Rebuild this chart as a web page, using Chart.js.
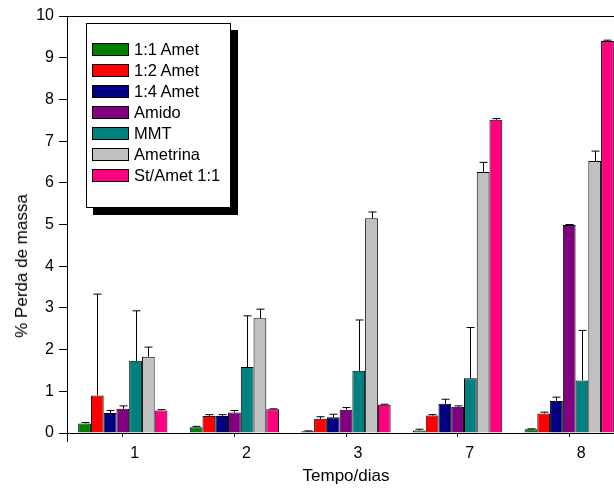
<!DOCTYPE html>
<html>
<head>
<meta charset="utf-8">
<script src="https://cdn.jsdelivr.net/npm/chart.js@4/dist/chart.umd.min.js"></script>
<style>
    body { margin: 0; overflow: hidden; background: #fff; font-family: Arial, "Liberation Sans", sans-serif; }
    #wrap { position: absolute; left: 0; top: 0; width: 640px; height: 490px; }
    #ytitle {
        position: absolute; left: 22px; top: 266px; white-space: nowrap;
        font-size: 17px; color: #000;
        transform: translate(-50%, -50%) rotate(-90deg);
    }
    #legend {
        position: absolute; left: 86px; top: 23px; width: 143px; height: 168px;
        border: 1px solid #000; background: #fff; box-shadow: 7px 7px 0 #000;
        padding-top: 15px; box-sizing: content-box;
    }
    #legend .row { height: 21px; display: flex; align-items: center; font-size: 16.5px; color: #000; }
    #legend .sw { width: 35px; height: 11px; border: 1px solid #000; margin-left: 5px; margin-right: 5px; }
</style>
</head>
<body>
<div id="wrap">
    <canvas id="grafico" width="640" height="490"></canvas>
    <div id="ytitle">% Perda de massa</div>
    <div id="legend"></div>
</div>
<script>
    // tempos (dias)
    var categorias = ['1', '2', '3', '7', '8'];

    var amet11 = [0.23, 0.14, 0.04, 0.06, 0.09];
    var amet12 = [0.90, 0.41, 0.34, 0.42, 0.47];
    var amet14 = [0.48, 0.41, 0.38, 0.70, 0.77];
    var amido = [0.58, 0.49, 0.56, 0.63, 4.99];
    var mmt = [1.73, 1.58, 1.49, 1.31, 1.26];
    var ametrina = [1.83, 2.75, 5.15, 6.26, 6.52];
    var stAmet = [0.54, 0.57, 0.68, 7.51, 9.40];

    // desvios (so a parte de cima e desenhada)
    var errAmet11 = [0.02, 0.02, 0.01, 0.03, 0.01];
    var errAmet12 = [2.43, 0.03, 0.05, 0.02, 0.03];
    var errAmet14 = [0.06, 0.03, 0.07, 0.11, 0.09];
    var errAmido = [0.07, 0.05, 0.05, 0.02, 0.01];
    var errMmt = [1.20, 1.23, 1.22, 1.22, 1.20];
    var errAmetrina = [0.23, 0.22, 0.15, 0.23, 0.24];
    var errStAmet = [0.02, 0.01, 0.01, 0.03, 0.02];

    var yTicks = [0, 1, 2, 3, 4, 5, 6, 7, 8, 9, 10];

    function serie(label, data, erros, cor) {
        return {
            label: label,
            data: data,
            erros: erros,
            backgroundColor: cor,
            borderColor: '#000',
            borderWidth: 1,
            categoryPercentage: 0.8,
            barPercentage: 1.0
        };
    }

    var datasets = [
        serie('1:1 Amet', amet11, errAmet11, '#008000'),
        serie('1:2 Amet', amet12, errAmet12, '#ff0000'),
        serie('1:4 Amet', amet14, errAmet14, '#000080'),
        serie('Amido', amido, errAmido, '#800080'),
        serie('MMT', mmt, errMmt, '#008080'),
        serie('Ametrina', ametrina, errAmetrina, '#c0c0c0'),
        serie('St/Amet 1:1', stAmet, errStAmet, '#ff0080')
    ];

    //- barras de erro + moldura do grafico -
    var errorBars = {
        id: 'errorBars',
        afterDatasetsDraw: function (chart) {
            var ctx = chart.ctx;
            var y = chart.scales.y;
            ctx.save();
            ctx.strokeStyle = '#000';
            ctx.lineWidth = 1;
            chart.data.datasets.forEach(function (ds, i) {
                var meta = chart.getDatasetMeta(i);
                meta.data.forEach(function (bar, j) {
                    var topo = y.getPixelForValue(ds.data[j] + ds.erros[j]);
                    var x = Math.round(bar.x) + 0.5;
                    ctx.beginPath();
                    ctx.moveTo(x, bar.y);
                    ctx.lineTo(x, topo);
                    ctx.moveTo(x - 4, topo);
                    ctx.lineTo(x + 4, topo);
                    ctx.stroke();
                });
            });
            ctx.restore();
        },
        afterDraw: function (chart) {
            var ctx = chart.ctx;
            var a = chart.chartArea;
            ctx.save();
            ctx.strokeStyle = '#000';
            ctx.lineWidth = 1;
            ctx.beginPath();
            ctx.moveTo(a.left, Math.round(a.top) + 0.5);
            ctx.lineTo(a.right, Math.round(a.top) + 0.5);
            // eixo y continua um pouco abaixo do zero
            ctx.moveTo(Math.round(a.left) + 0.5, a.bottom);
            ctx.lineTo(Math.round(a.left) + 0.5, a.bottom + 9);
            ctx.stroke();
            ctx.restore();
        }
    };

    var ctx = document.getElementById('grafico').getContext('2d');
    new Chart(ctx, {
        type: 'bar',
        data: { labels: categorias, datasets: datasets },
        plugins: [errorBars],
        options: {
            responsive: false,
            animation: false,
            layout: { padding: { top: 16, right: 15, left: 0, bottom: 0 } },
            plugins: { legend: { display: false }, tooltip: { enabled: false } },
            scales: {
                x: {
                    offset: true,
                    grid: { offset: false, drawOnChartArea: false, tickLength: 4, color: '#000' },
                    border: { color: '#000', width: 1 },
                    ticks: { color: '#000', labelOffset: 12, padding: 7, font: { family: 'Arial, "Liberation Sans"', size: 16 } },
                    title: { display: true, text: 'Tempo/dias', color: '#000', padding: { top: 0, bottom: 3 }, font: { family: 'Arial, "Liberation Sans"', size: 17 } },
                    afterFit: function (scale) { scale.height = 57; }
                },
                y: {
                    min: 0,
                    max: 10,
                    afterBuildTicks: function (scale) { scale.ticks = yTicks.map(function (v) { return { value: v }; }); },
                    grid: { drawOnChartArea: false, tickLength: 8, color: '#000' },
                    border: { color: '#000', width: 1 },
                    ticks: { color: '#000', padding: 5, font: { family: 'Arial, "Liberation Sans"', size: 16 } },
                    afterFit: function (scale) { scale.width = 67; }
                }
            }
        }
    });

    // legenda em html, a partir das series
    var legenda = document.getElementById('legend');
    datasets.forEach(function (ds) {
        var row = document.createElement('div');
        row.className = 'row';
        var sw = document.createElement('span');
        sw.className = 'sw';
        sw.style.background = ds.backgroundColor;
        row.appendChild(sw);
        row.appendChild(document.createTextNode(ds.label));
        legenda.appendChild(row);
    });
</script>
</body>
</html>
